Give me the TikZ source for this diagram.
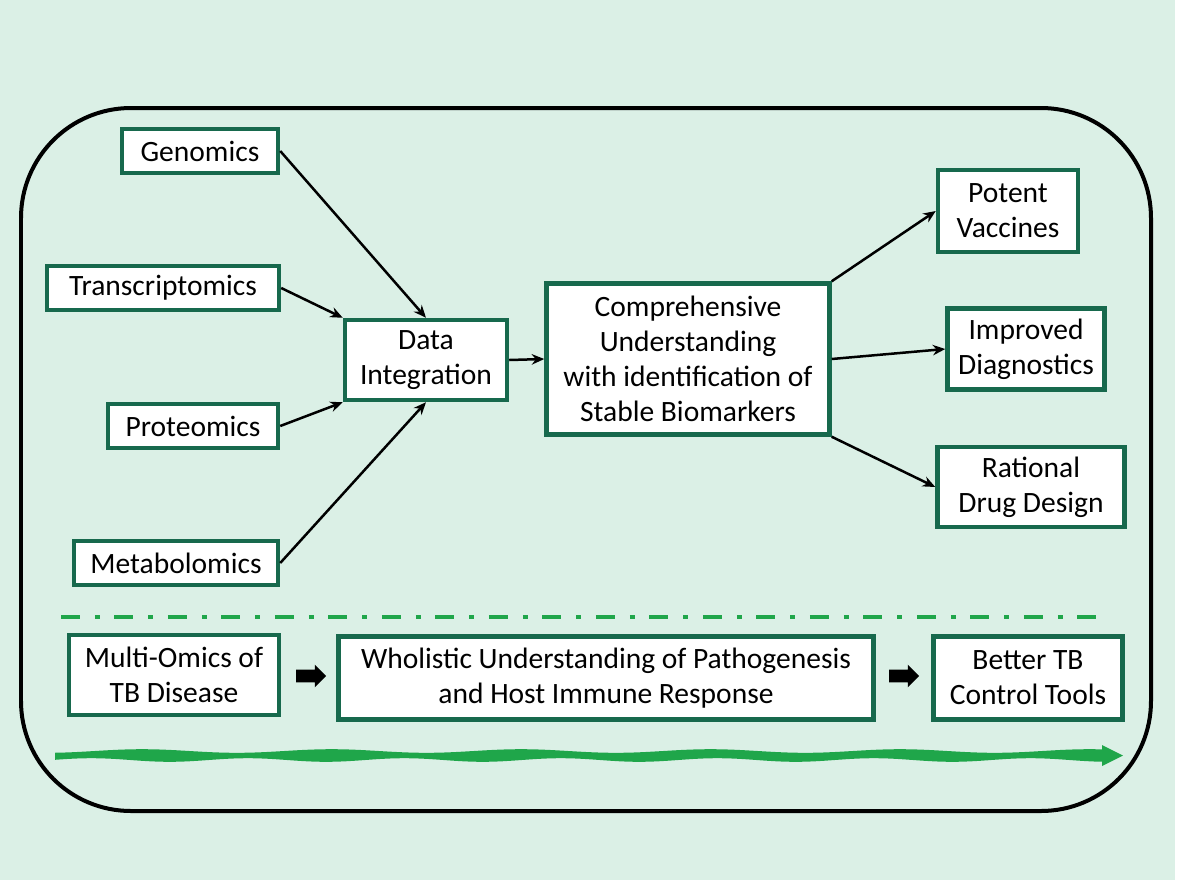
\documentclass[tikz,border=0pt]{standalone}
\usepackage{fontspec}
\setmainfont{Carlito}
\usetikzlibrary{arrows.meta,positioning,shapes.arrows}
\definecolor{bgmint}{HTML}{DBF0E6}
\definecolor{boxgreen}{HTML}{17694D}
\definecolor{linegreen}{HTML}{1FA64A}

\begin{document}
\begin{tikzpicture}[x=0.02cm, y=-0.02cm,
  omicbox/.style={draw=boxgreen, line width=0.09cm, fill=white, align=center,
    inner sep=0pt, font=\fontsize{16.8}{19.8}\selectfont},
  flow/.style={-{Stealth[length=0.25cm,width=0.21cm]}, line width=0.05cm},
  blockarrow/.style={single arrow, fill=black, draw=none, inner xsep=0pt,
    inner ysep=0.12cm, single arrow head extend=0.1cm, minimum height=0.6cm}]
% page and frame
\fill[white] (0,0) rectangle (1181,887);
\fill[bgmint] (0,0) rectangle (1175,880);
\draw[line width=0.08cm, rounded corners=2.2cm] (21,108) rectangle (1151,811);

% omics inputs
\node[omicbox, minimum width=3.12cm, minimum height=0.88cm] (gen) at (200,151) {Genomics};
\node[omicbox, minimum width=4.64cm, minimum height=0.88cm] (trans) at (163,288) {Transcriptomics};
\node[omicbox, minimum width=3.4cm, minimum height=0.88cm] (prot) at (193,426) {Proteomics};
\node[omicbox, minimum width=4.08cm, minimum height=0.88cm] (meta) at (176,563) {Metabolomics};

\node[omicbox, minimum width=3.24cm, minimum height=1.6cm] (integ) at (426,360) {Data\\Integration};
\node[omicbox, minimum width=5.66cm, minimum height=3.02cm] (compr) at (688,359)
  {Comprehensive\\Understanding\\with identification of\\Stable Biomarkers};

% outcomes
\node[omicbox, minimum width=2.8cm, minimum height=1.64cm] (vacc) at (1008,211) {Potent\\Vaccines};
\node[omicbox, minimum width=3.14cm, minimum height=1.62cm] (diag) at (1026,349) {Improved\\Diagnostics};
\node[omicbox, minimum width=3.74cm, minimum height=1.6cm] (drug) at (1031,487) {Rational\\Drug Design};

\draw[flow] (gen.east) -- (integ.north);
\draw[flow] (trans.east) -- (integ.north west);
\draw[flow] (prot.east) -- (integ.south west);
\draw[flow] (meta.east) -- (integ.south);
\draw[flow] (integ.east) -- (compr.west);
\draw[flow] (compr.north east) -- (vacc.west);
\draw[flow] (compr.east) -- (diag.west);
\draw[flow] (compr.south east) -- (drug.west);

% separator
\coordinate (sepl) at (61,617);
\coordinate (sepr) at (1109,617);
\draw[linegreen, line width=0.09cm, dash pattern=on 0.38cm off 0.3cm on 0.1cm off 0.29cm] (sepl) -- (sepr);

% summary row
\node[omicbox, minimum width=4.2cm, minimum height=1.6cm] (multi) at (174,675) {Multi-Omics of\\TB Disease};
\node[omicbox, minimum width=10.7cm, minimum height=1.66cm] (whol) at (606,678)
  {Wholistic Understanding of Pathogenesis\\and Host Immune Response};
\node[omicbox, minimum width=3.78cm, minimum height=1.66cm] (better) at (1028,678) {Better TB\\Control Tools};
\node[blockarrow] (blk1) at (308,676) {};
\node[blockarrow] (blk2) at (901,676) {};

% brush arrow
\fill[linegreen] plot[domain=55:1106, samples=150, smooth] (\x,{751+1.8*sin(1.9*\x)})
  -- plot[domain=1106:55, samples=150, smooth] (\x,{760+1.8*sin(2.3*\x+60)}) -- cycle;
\fill[linegreen] (1102,745) -- (1123,755.5) -- (1102,766) -- cycle;
\end{tikzpicture}
\end{document}
